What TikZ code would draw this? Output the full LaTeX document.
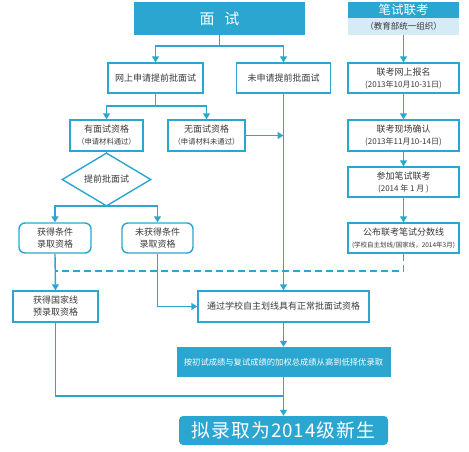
\documentclass[tikz,border=0pt]{standalone}
\usepackage{fontspec}
\setmainfont{Noto Sans CJK SC}
\usetikzlibrary{arrows.meta,shapes.geometric}
\definecolor{cblue}{HTML}{2AA6D0}
\definecolor{clight}{HTML}{D5EBF6}
\definecolor{ctext}{HTML}{3A3A3A}
\begin{document}
\begin{tikzpicture}[x=1pt,y=-1pt,
  base/.style={draw=cblue,line width=1.4pt,inner sep=0pt,align=center,text=ctext,font=\fontsize{9}{12}\selectfont},
  plainbox/.style={base,rectangle,fill=white},
  bluebox/.style={rectangle,fill=cblue,inner sep=0pt,align=center,text=white},
  roundbox/.style={base,rectangle,rounded corners=6pt,fill=white},
  decision/.style={base,diamond,fill=white},
  conn/.style={draw=cblue,line width=1.4pt},
  arr/.style={conn,-{Triangle[width=7pt,length=6pt]}},
]
\useasboundingbox (0,0) rectangle (469,451);

% top
\node[bluebox,minimum width=171pt,minimum height=33pt,font=\fontsize{15}{15}\selectfont] (ms) at (219.5,18.5) {面\hspace{10pt}试};
\node[bluebox,minimum width=111pt,minimum height=16pt,font=\fontsize{12.5}{13}\selectfont] (bs) at (403.5,10) {笔试联考};
\node[rectangle,fill=clight,inner sep=0pt,minimum width=111pt,minimum height=17pt,text=ctext,font=\fontsize{8.5}{9}\selectfont] (bsz) at (403.5,26.5) {（教育部统一组织）};

% left branch
\node[plainbox,minimum width=95pt,minimum height=30pt] (wang) at (155.5,78) {网上申请提前批面试};
\node[plainbox,minimum width=94pt,minimum height=30pt] (wei) at (283.5,78) {未申请提前批面试};
\node[plainbox,minimum width=73pt,minimum height=31pt] (you) at (106.5,135.5) {有面试资格\\{\fontsize{7.3}{9}\selectfont（申请材料通过）}};
\node[plainbox,minimum width=77pt,minimum height=31pt] (wu) at (206.5,135.5) {无面试资格\\{\fontsize{7.3}{9}\selectfont（申请材料未通过）}};
\node[decision,minimum width=89pt,minimum height=35pt] (dec) at (106.5,179.5) {提前批面试};
\node[roundbox,minimum width=72pt,minimum height=30pt] (hd) at (55,238) {获得条件\\录取资格};
\node[roundbox,minimum width=71pt,minimum height=30pt] (whd) at (157.5,238) {未获得条件\\录取资格};
\node[plainbox,minimum width=85pt,minimum height=31pt] (gjx) at (55.5,306.5) {获得国家线\\预录取资格};
\node[plainbox,minimum width=171pt,minimum height=31pt] (tg) at (283.5,306.5) {通过学校自主划线具有正常批面试资格};
\node[bluebox,minimum width=214pt,minimum height=30pt,font=\fontsize{8.3}{9}\selectfont] (ac) at (283.5,362) {按初试成绩与复试成绩的加权总成绩从高到低择优录取};
\node[bluebox,rounded corners=4pt,minimum width=209pt,minimum height=29pt,font=\fontsize{18.8}{20}\selectfont] (fin) at (283.5,430.5) {拟\kern1pt 录\kern1pt 取\kern1pt 为\kern1pt 2\kern1pt 0\kern1pt 1\kern1pt 4\kern1pt 级\kern1pt 新\kern1pt 生};

% right column
\node[plainbox,minimum width=111pt,minimum height=30pt] (bm) at (403.5,78) {联考网上报名\\{\fontsize{8}{9}\selectfont (2013年10月10-31日)}};
\node[plainbox,minimum width=111pt,minimum height=31pt] (qr) at (403.5,135.5) {联考现场确认\\{\fontsize{8}{9}\selectfont (2013年11月10-14日)}};
\node[plainbox,minimum width=111pt,minimum height=30pt] (cj) at (403.5,182) {参加笔试联考\\{\fontsize{8}{9}\selectfont (2014 年 1 月 )}};
\node[plainbox,minimum width=111pt,minimum height=30pt] (gb) at (403.5,238) {公布联考笔试分数线\\{\fontsize{6.5}{8}\selectfont (学校自主划线/国家线，2014年3月)}};

% connectors
\coordinate (j1) at (219.5,46);
\draw[conn] (ms.south) -- (j1);
\draw[arr] (j1) -| (wang.north);
\draw[arr] (j1) -| (wei.north);
\coordinate (j2) at (155.5,106);
\draw[conn] (wang.south) -- (j2);
\draw[arr] (j2) -| (you.north);
\draw[arr] (j2) -| (wu.north);
\draw[arr] (wei.south) -- (tg.north);
\draw[arr] (wu.east) -- (wu.east -| wei.south);
\draw[conn] (you.south) -- (dec.north);
\coordinate (j3) at (106.5,206);
\draw[conn] (dec.south) -- (j3);
\draw[arr] (j3) -| (hd.north);
\draw[arr] (j3) -| (whd.north);
\draw[arr] (hd.south) -- (gjx.north);
\draw[arr] (whd.south) |- (tg.west);
\coordinate (d1) at (403.5,271);
\coordinate (d2) at (55,271);
\draw[conn,dash pattern=on 7pt off 4pt] (gb.south) -- (d1) -- (d2);
\draw[arr] (bsz.south) -- (bm.north);
\draw[arr] (bm.south) -- (qr.north);
\draw[arr] (qr.south) -- (cj.north);
\draw[arr] (cj.south) -- (gb.north);
\draw[arr] (tg.south) -- (ac.north);
\draw[arr] (ac.south) -- (fin.north);
\coordinate (j4) at (55.5,396);
\draw[conn] (gjx.south) -- (j4) -- (j4 -| ac.south);
\end{tikzpicture}
\end{document}
